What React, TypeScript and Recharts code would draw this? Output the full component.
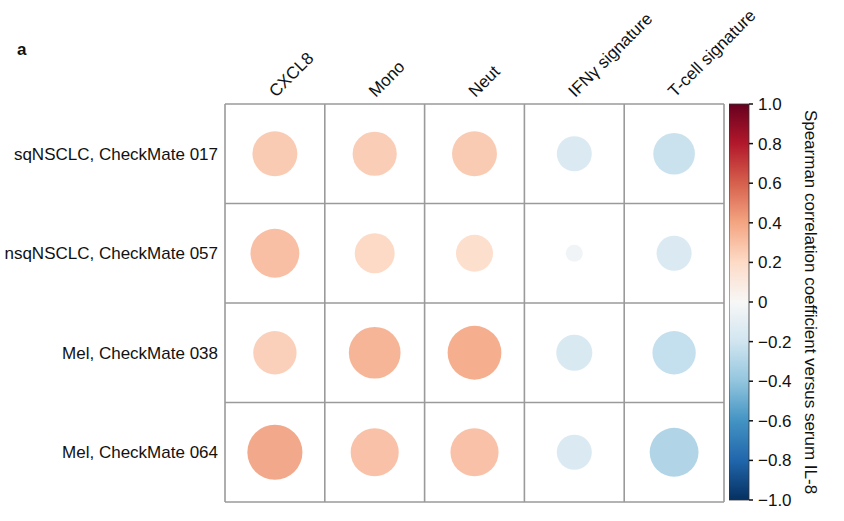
import {
  ScatterChart,
  Scatter,
  BarChart,
  Bar,
  XAxis,
  YAxis,
  ZAxis,
  Cell,
  ReferenceLine,
} from "recharts";

const columns = ["CXCL8", "Mono", "Neut", "IFNγ signature", "T-cell signature"];
const rows = [
  "sqNSCLC, CheckMate 017",
  "nsqNSCLC, CheckMate 057",
  "Mel, CheckMate 038",
  "Mel, CheckMate 064",
];

// Spearman correlation vs serum IL-8, one array per study (same order as columns)
const cm017 = [0.28, 0.27, 0.28, -0.17, -0.24];
const cm057 = [0.33, 0.22, 0.19, -0.04, -0.17];
const cm038 = [0.26, 0.37, 0.4, -0.18, -0.26];
const cm064 = [0.42, 0.32, 0.32, -0.17, -0.33];
const studyValues = [cm017, cm057, cm038, cm064];

const colorbarTicks = [-1, -0.8, -0.6, -0.4, -0.2, 0, 0.2, 0.4, 0.6, 0.8, 1];
const colorbarData = [{ key: "scale", span: [-1, 1] }];

const RDBU = [
  "#053061", "#2166ac", "#4393c3", "#92c5de", "#d1e5f0", "#f7f7f7",
  "#fddbc7", "#f4a582", "#d6604d", "#b2182b", "#67001f",
];

function hexToRgb(h: string) {
  return [1, 3, 5].map((i) => parseInt(h.slice(i, i + 2), 16));
}

function corrColor(v: number) {
  const t = ((v + 1) / 2) * 10;
  const i = Math.min(9, Math.max(0, Math.floor(t)));
  const f = t - i;
  const a = hexToRgb(RDBU[i]);
  const b = hexToRgb(RDBU[i + 1]);
  const c = a.map((av, k) => Math.round(av + (b[k] - av) * f));
  return `rgb(${c[0]},${c[1]},${c[2]})`;
}

const data = studyValues.flatMap((vals, r) =>
  vals.map((v, c) => ({ x: c + 1, y: r + 1, value: v, mag: Math.abs(v) }))
);

const font = "'Liberation Sans', Arial, Helvetica, sans-serif";
const colBounds = [0, ...columns.map((_, i) => i + 1)].map((v) => v + 0.5);
const rowBounds = [0, ...rows.map((_, i) => i + 1)].map((v) => v + 0.5);

const fmt = (v: number) =>
  v === 0 ? "0" : (v < 0 ? "\u2212" : "") + Math.abs(v).toFixed(1);

function ColorBar() {
  return (
    <BarChart
      width={115}
      height={416}
      data={colorbarData}
      margin={{ top: 10, right: 0, bottom: 10, left: 0 }}
      barCategoryGap={0}
    >
      <defs>
        <linearGradient id="rdbu" x1="0" y1="1" x2="0" y2="0">
          {RDBU.map((c, i) => (
            <stop key={i} offset={`${i * 10}%`} stopColor={c} />
          ))}
        </linearGradient>
      </defs>
      <XAxis dataKey="key" hide />
      <YAxis
        orientation="right"
        type="number"
        domain={[-1, 1]}
        ticks={colorbarTicks}
        interval={0}
        width={95}
        axisLine={false}
        tickSize={4}
        tickMargin={5}
        tickLine={{ stroke: "#111", strokeWidth: 1.5 }}
        tickFormatter={fmt}
        tick={{ fontFamily: font, fontSize: 17, fill: "#111" }}
        label={({ viewBox }: any) => (
          <text
            transform={`translate(${viewBox.x + 56},${viewBox.y + viewBox.height / 2}) rotate(90)`}
            textAnchor="middle"
            fontFamily={font}
            fontSize={17}
            fill="#111"
          >
            Spearman correlation coefficient versus serum IL-8
          </text>
        )}
      />
      <Bar
        dataKey="span"
        fill="url(#rdbu)"
        stroke="#333"
        strokeWidth={0.8}
        isAnimationActive={false}
      />
    </BarChart>
  );
}

export default function App() {
  return (
    <div style={{ position: "absolute", left: 0, top: 0, width: 844, height: 521, background: "#fff" }}>
      <ScatterChart
        width={844}
        height={521}
        margin={{ top: 74, right: 120, bottom: 19, left: 195 }}
      >
        <XAxis
          dataKey="x"
          type="number"
          domain={[0.5, 5.5]}
          ticks={[1, 2, 3, 4, 5]}
          orientation="top"
          height={30}
          axisLine={false}
          tickLine={false}
          interval={0}
          tick={({ x, payload }: any) => (
            <text
              transform={`translate(${x + 1},${98}) rotate(-45)`}
              textAnchor="start"
              fontFamily={font}
              fontSize={17}
              fill="#111"
            >
              {columns[payload.value - 1]}
            </text>
          )}
        />
        <YAxis
          dataKey="y"
          type="number"
          domain={[0.5, 4.5]}
          reversed
          ticks={[1, 2, 3, 4]}
          width={30}
          axisLine={false}
          tickLine={false}
          interval={0}
          tick={({ y, payload }: any) => (
            <text
              x={218}
              y={y}
              dy={6}
              textAnchor="end"
              fontFamily={font}
              fontSize={17}
              fill="#111"
            >
              {rows[payload.value - 1]}
            </text>
          )}
        />
        <ZAxis dataKey="mag" type="number" domain={[0, 1]} range={[0, 5675]} />
        {colBounds.map((b) => (
          <ReferenceLine key={`c${b}`} x={b} stroke="#9a9a9a" strokeWidth={1.6} />
        ))}
        {rowBounds.map((b) => (
          <ReferenceLine key={`r${b}`} y={b} stroke="#9a9a9a" strokeWidth={1.6} />
        ))}
        <Scatter
          data={data}
          isAnimationActive={false}
          shape={(p: any) => (
            <circle cx={p.cx} cy={p.cy} r={p.width / 2} fill={p.fill} fillOpacity={0.9} />
          )}
        >
          {data.map((d, i) => (
            <Cell key={i} fill={corrColor(d.value)} />
          ))}
        </Scatter>
        <text x={17} y={55} fontFamily={font} fontSize={17} fontWeight="bold" fill="#111">
          a
        </text>
      </ScatterChart>
      <div style={{ position: "absolute", left: 729, top: 94 }}>
        <ColorBar />
      </div>
    </div>
  );
}
